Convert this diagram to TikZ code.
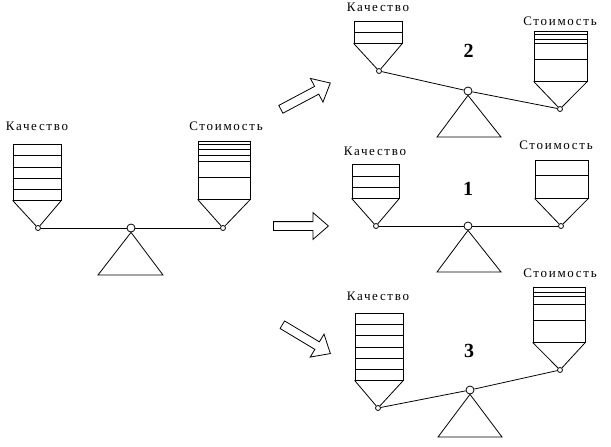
\documentclass[tikz,border=0pt]{standalone}
\usepackage{fontspec}
\setmainfont{Liberation Serif}[LetterSpace=13]
\usetikzlibrary{shapes.arrows}

\tikzset{
  pan/.style={draw, inner sep=0pt},
  hinge/.style={draw, circle, fill=white, inner sep=0pt, minimum size=5pt},
  axle/.style={draw, circle, fill=white, inner sep=0pt, minimum size=8pt},
  word/.style={font=\fontsize{13}{13}\selectfont, inner sep=0pt},
  digit/.style={font=\fontsize{20}{20}\selectfont\bfseries, inner sep=0pt},
  bigarrow/.style={draw, single arrow, inner sep=4pt, single arrow head extend=9pt,
    single arrow tip angle=82, minimum height=56pt, anchor=tail}
}

\begin{document}
\begin{tikzpicture}[x=1pt, y=-1pt, line width=0.8pt]
        \useasboundingbox (0,0) rectangle (611,447);

        % Start: balanced scale
        \node[pan, minimum width=48pt, minimum height=56pt] (lb0) at (37,172) {};
        \node[pan, minimum width=52pt, minimum height=58pt] (rb0) at (224,170) {};
        \node[hinge] (lp0) at (38,228) {};
        \node[axle] (c0) at (131,228) {};
        \node[hinge] (rp0) at (223,228) {};
        \draw (lp0) -- (c0) -- (rp0);
        \draw (lb0.south west) -- (lp0) -- (lb0.south east);
        \draw (rb0.south west) -- (rp0) -- (rb0.south east);
        \draw (c0.south) -- (98,275) -- (163,275) -- cycle;
        \foreach \y in {155,167,178,189} \draw (13,\y) -- (61,\y);
        \foreach \y in {144,149,155,161,177} \draw (198,\y) -- (250,\y);
        \node[word] (kq0) at (37,126) {Качество};
        \node[word] (st0) at (226,126) {Стоимость};

        % Arrows to the three outcomes
        \node[bigarrow, rotate=28] (up) at (280.5,109.5) {};
        \node[bigarrow, minimum height=55pt] (mid) at (273,226) {};
        \node[bigarrow, rotate=-31] (down) at (282,324.5) {};

        % Case 2: cost outweighs quality
        \node[pan, minimum width=48pt, minimum height=22pt] (lb2) at (378,32) {};
        \node[pan, minimum width=53pt, minimum height=50pt] (rb2) at (560.5,56) {};
        \node[hinge] (lp2) at (379,71) {};
        \node[axle] (c2) at (468,91) {};
        \node[hinge] (rp2) at (560,109) {};
        \draw (lp2) -- (c2) -- (rp2);
        \draw (lb2.south west) -- (lp2) -- (lb2.south east);
        \draw (rb2.south west) -- (rp2) -- (rb2.south east);
        \draw (c2.south) -- (437,137) -- (501,137) -- cycle;
        \draw (354,32) -- (402,32);
        \foreach \y in {34,39,43,59} \draw (534,\y) -- (587,\y);
        \node[word] (kq2) at (378,7) {Качество};
        \node[word] (st2) at (560,21) {Стоимость};
        \node[digit] (n2) at (468.5,51) {2};

        % Case 1: balance
        \node[pan, minimum width=47pt, minimum height=34pt] (lb1) at (375.5,181) {};
        \node[pan, minimum width=53pt, minimum height=38pt] (rb1) at (561.5,179) {};
        \node[hinge] (lp1) at (376,226) {};
        \node[axle] (c1) at (468,226) {};
        \node[hinge] (rp1) at (561,226) {};
        \draw (lp1) -- (c1) -- (rp1);
        \draw (lb1.south west) -- (lp1) -- (lb1.south east);
        \draw (rb1.south west) -- (rp1) -- (rb1.south east);
        \draw (c1.south) -- (437,272) -- (501,272) -- cycle;
        \foreach \y in {176,187} \draw (352,\y) -- (399,\y);
        \draw (535,175) -- (588,175);
        \node[word] (kq1) at (375,151.5) {Качество};
        \node[word] (st1) at (556,145.5) {Стоимость};
        \node[digit] (n1) at (468,189) {1};

        % Case 3: quality outweighs cost
        \node[pan, minimum width=48pt, minimum height=67pt] (lb3) at (379,346.5) {};
        \node[pan, minimum width=52pt, minimum height=55pt] (rb3) at (559,314.5) {};
        \node[hinge] (lp3) at (378,408) {};
        \node[axle] (c3) at (470,390) {};
        \node[hinge] (rp3) at (560,370) {};
        \draw (lp3) -- (c3) -- (rp3);
        \draw (lb3.south west) -- (lp3) -- (lb3.south east);
        \draw (rb3.south west) -- (rp3) -- (rb3.south east);
        \draw (c3.south) -- (438,437) -- (502,437) -- cycle;
        \foreach \y in {324,335,347,358,369} \draw (355,\y) -- (403,\y);
        \foreach \y in {292,296,304,320} \draw (533,\y) -- (585,\y);
        \node[word] (kq3) at (378,296.5) {Качество};
        \node[word] (st3) at (560,273) {Стоимость};
        \node[digit] (n3) at (469,351) {3};
\end{tikzpicture}
\end{document}
